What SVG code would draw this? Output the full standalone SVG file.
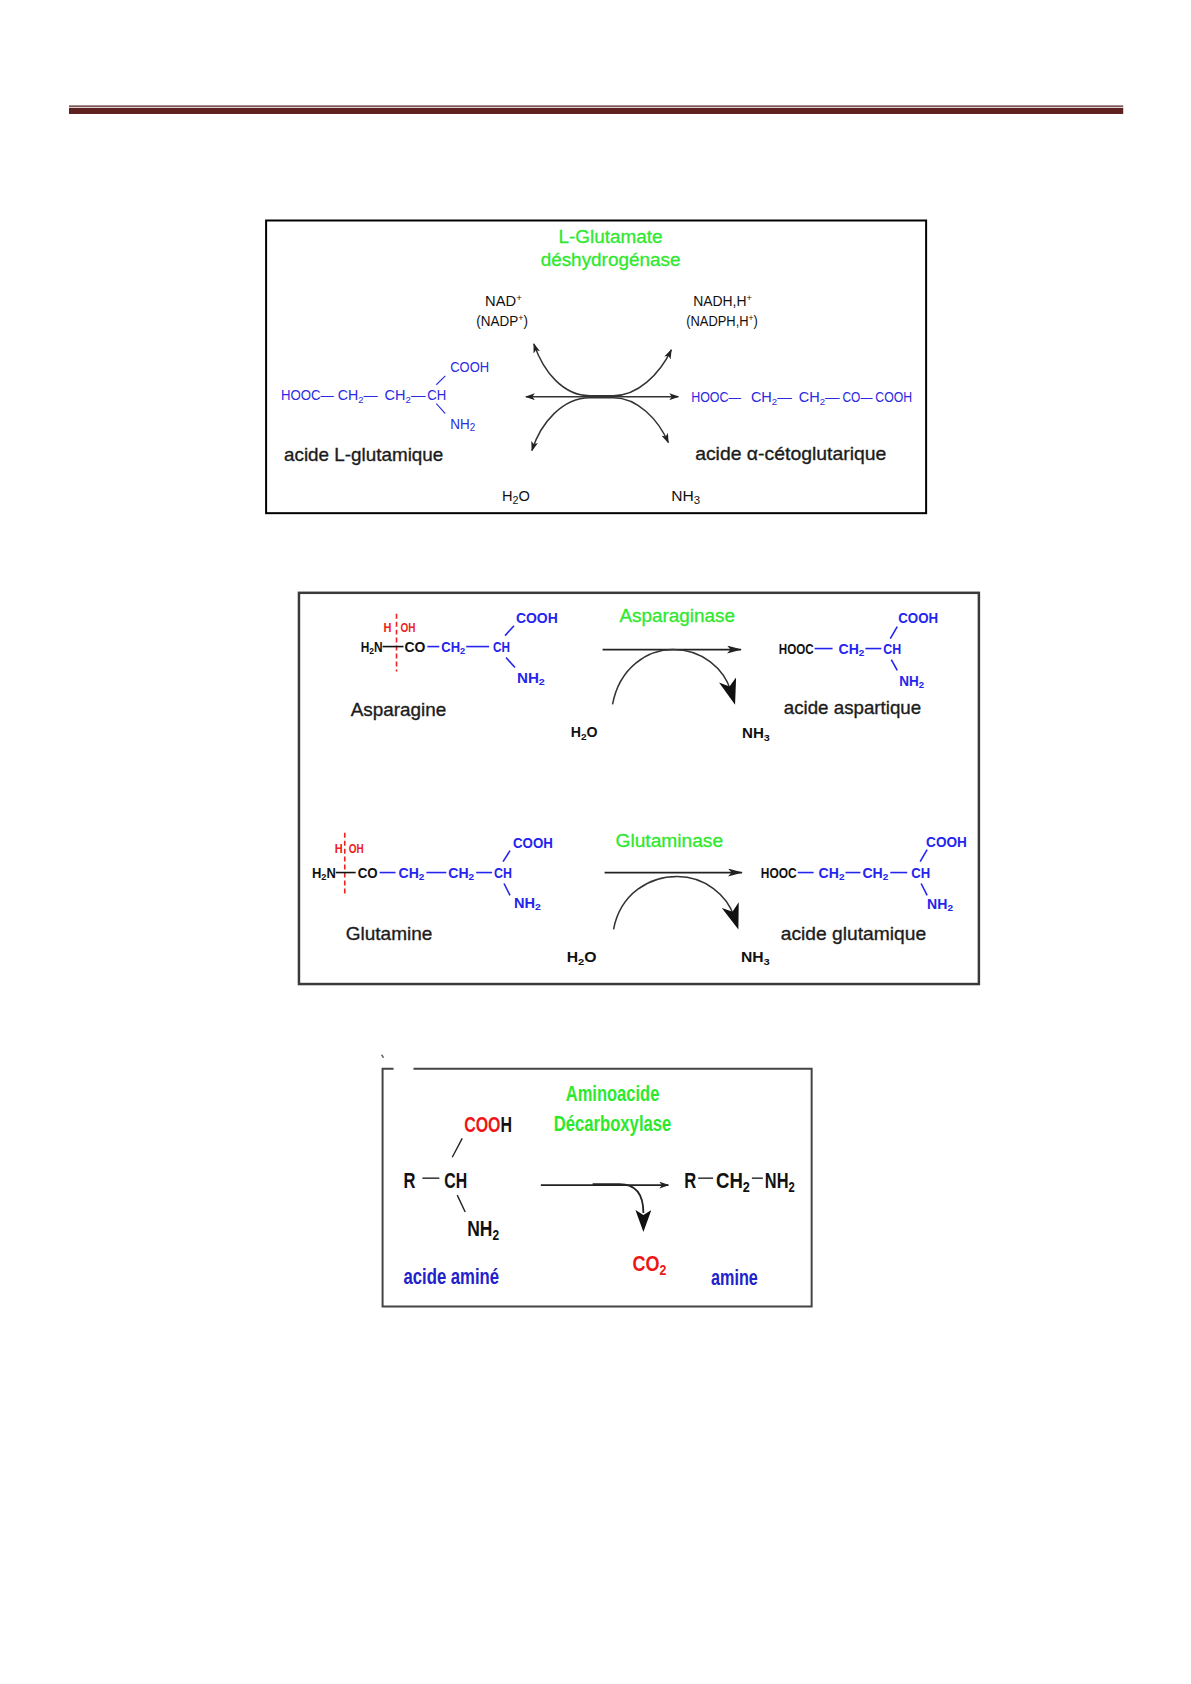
<svg xmlns="http://www.w3.org/2000/svg" width="1191" height="1684" viewBox="0 0 1191 1684">
<style>
text{font-family:"Liberation Sans",Arial,sans-serif}
.frame1{fill:none;stroke:#000;stroke-width:2}
.frame2{fill:none;stroke:#3a3a3a;stroke-width:2.5}
.m1{font-size:15px;fill:#2a2ae0}
.k1{font-size:15px;fill:#111}
.lbl{font-size:19px;fill:#1c1c1c;stroke:#1c1c1c;stroke-width:0.35}
.enz{font-size:19px;fill:#2ee82e;stroke:#2ee82e;stroke-width:0.3}
.m2{font-size:14px;font-weight:bold;fill:#2424ee}
.k2{font-size:14px;font-weight:bold;fill:#111}
.r2{font-size:12.5px;font-weight:bold;fill:#ee2020}
.b3{font-size:22px;font-weight:bold;fill:#111}
.e3{font-size:22px;font-weight:bold;fill:#2ee82e}
.u3{font-size:22px;font-weight:bold;fill:#2222cc}
.red3{font-size:22px;font-weight:bold;fill:#ee1515}
.bond1{stroke:#2a2ae0;stroke-width:1.1}
.bond2{stroke:#2424ee;stroke-width:1.6}
.bondk{stroke:#111;stroke-width:1.6}
.bond3{stroke:#222;stroke-width:1.4}
.cut{stroke:#ee2020;stroke-width:1.6;stroke-dasharray:5 3}
.arr{fill:none;stroke:#333;stroke-width:1.5}
.arrk{fill:none;stroke:#222;stroke-width:1.8}
</style>
<defs>
<marker id="a1" viewBox="0 0 10 7" refX="9" refY="3.5" markerWidth="10" markerHeight="7" markerUnits="userSpaceOnUse" orient="auto-start-reverse"><path d="M0,0 L10,3.5 L0,7 L2.5,3.5Z" fill="#222"/></marker>
<marker id="a2" viewBox="0 0 15 8" refX="14" refY="4" markerWidth="15" markerHeight="8" markerUnits="userSpaceOnUse" orient="auto"><path d="M0,0 L15,4 L0,8 L3.5,4Z" fill="#222"/></marker>
<marker id="a3" viewBox="0 0 26 18" refX="12" refY="9" markerWidth="26" markerHeight="18" markerUnits="userSpaceOnUse" orient="auto"><path d="M0,0 L26,9 L0,18 L7,9Z" fill="#111"/></marker>
<marker id="a4" viewBox="0 0 22 16" refX="3" refY="8" markerWidth="22" markerHeight="16" markerUnits="userSpaceOnUse" orient="auto"><path d="M0,0 L22,8 L0,16 L5,8Z" fill="#111"/></marker>
</defs>

<g transform="matrix(0.9955 0 0 0.9955 0.31 0.49)">

<g id="header">
<rect x="69" y="105.5" width="1059" height="1.2" fill="#4a1515"/>
<rect x="69" y="107.8" width="1059" height="6.2" fill="#5f2020"/>
</g>

<!-- ============ Box 1 ============ -->
<g id="box1-frame"><rect class="frame1" x="267" y="221" width="663" height="294"/></g>

<g id="gdh-enzyme">
<text class="enz" x="613" y="244" text-anchor="middle">L-Glutamate</text>
<text class="enz" x="613" y="267" text-anchor="middle">déshydrogénase</text>
</g>

<g id="nad">
<text class="k1" x="487" y="307" textLength="37" lengthAdjust="spacingAndGlyphs">NAD<tspan font-size="10" dy="-5">+</tspan></text>
<text class="k1" x="478" y="327" textLength="52" lengthAdjust="spacingAndGlyphs">(NADP<tspan font-size="10" dy="-5">+</tspan><tspan dy="5">)</tspan></text>
</g>
<g id="nadh">
<text class="k1" x="696" y="307" textLength="59" lengthAdjust="spacingAndGlyphs">NADH,H<tspan font-size="10" dy="-5">+</tspan></text>
<text class="k1" x="689" y="327" textLength="72" lengthAdjust="spacingAndGlyphs">(NADPH,H<tspan font-size="10" dy="-5">+</tspan><tspan dy="5">)</tspan></text>
</g>

<g id="glutamic-acid">
<text class="m1" x="282" y="401" textLength="53" lengthAdjust="spacingAndGlyphs">HOOC—</text>
<text class="m1" x="339" y="401" textLength="40" lengthAdjust="spacingAndGlyphs">CH<tspan font-size="10" dy="3">2</tspan><tspan dy="-3">—</tspan></text>
<text class="m1" x="386" y="401" textLength="41" lengthAdjust="spacingAndGlyphs">CH<tspan font-size="10" dy="3">2</tspan><tspan dy="-3">—</tspan></text>
<text class="m1" x="429" y="401" textLength="19" lengthAdjust="spacingAndGlyphs">CH</text>
<text class="m1" x="452" y="373" textLength="39" lengthAdjust="spacingAndGlyphs">COOH</text>
<text class="m1" x="452" y="430" textLength="25" lengthAdjust="spacingAndGlyphs">NH<tspan font-size="11" dy="2">2</tspan></text>
<line class="bond1" x1="438" y1="386" x2="447" y2="377"/>
<line class="bond1" x1="438" y1="405" x2="447" y2="415"/>
<text class="lbl" x="285" y="463" textLength="160" lengthAdjust="spacingAndGlyphs">acide L-glutamique</text>
</g>

<g id="ketoglutaric-acid">
<text class="m1" x="694" y="403" textLength="50" lengthAdjust="spacingAndGlyphs">HOOC—</text>
<text class="m1" x="754" y="403" textLength="41" lengthAdjust="spacingAndGlyphs">CH<tspan font-size="10" dy="3">2</tspan><tspan dy="-3">—</tspan></text>
<text class="m1" x="802" y="403" textLength="41" lengthAdjust="spacingAndGlyphs">CH<tspan font-size="10" dy="3">2</tspan><tspan dy="-3">—</tspan></text>
<text class="m1" x="846" y="403" textLength="30" lengthAdjust="spacingAndGlyphs">CO—</text>
<text class="m1" x="879" y="403" textLength="37" lengthAdjust="spacingAndGlyphs">COOH</text>
<text class="lbl" x="698" y="462" textLength="192" lengthAdjust="spacingAndGlyphs">acide α-cétoglutarique</text>
</g>

<g id="water1"><text class="k1" x="504" y="503" textLength="28" lengthAdjust="spacingAndGlyphs">H<tspan font-size="11" dy="3">2</tspan><tspan dy="-3">O</tspan></text></g>
<g id="ammonia1"><text class="k1" x="674" y="503" textLength="29" lengthAdjust="spacingAndGlyphs">NH<tspan font-size="11" dy="3">3</tspan></text></g>

<!-- ============ Box 2 ============ -->
<g id="box2-frame"><rect class="frame2" x="300" y="595" width="683" height="393"/></g>

<g id="asparagine">
<line class="cut" x1="398" y1="616" x2="398" y2="674"/>
<text class="r2" x="385" y="634" textLength="8" lengthAdjust="spacingAndGlyphs">H</text>
<text class="r2" x="402" y="634" textLength="15" lengthAdjust="spacingAndGlyphs">OH</text>
<text class="k2" x="362" y="654" textLength="22" lengthAdjust="spacingAndGlyphs">H<tspan font-size="10" dy="2">2</tspan><tspan dy="-2">N</tspan></text>
<line class="bondk" x1="384" y1="649" x2="405" y2="649"/>
<text class="k2" x="406" y="654" textLength="21" lengthAdjust="spacingAndGlyphs">CO</text>
<line class="bond2" x1="429" y1="649" x2="441" y2="649"/>
<text class="m2" x="443" y="654" textLength="24" lengthAdjust="spacingAndGlyphs">CH<tspan font-size="10" dy="2">2</tspan></text>
<line class="bond2" x1="468" y1="649" x2="491" y2="649"/>
<text class="m2" x="495" y="654" textLength="17" lengthAdjust="spacingAndGlyphs">CH</text>
<text class="m2" x="518" y="625" textLength="42" lengthAdjust="spacingAndGlyphs">COOH</text>
<text class="m2" x="519" y="686" textLength="28" lengthAdjust="spacingAndGlyphs">NH<tspan font-size="10" dy="2">2</tspan></text>
<line class="bond2" x1="507" y1="638" x2="516" y2="628"/>
<line class="bond2" x1="508" y1="660" x2="517" y2="670"/>
<text class="lbl" x="352" y="719" textLength="96" lengthAdjust="spacingAndGlyphs">Asparagine</text>
</g>

<g id="asparaginase"><text class="enz" x="622" y="624" textLength="116" lengthAdjust="spacingAndGlyphs">Asparaginase</text></g>

<g id="aspartic-acid">
<text class="k2" x="782" y="656" textLength="35" lengthAdjust="spacingAndGlyphs">HOOC</text>
<line class="bond2" x1="818" y1="651" x2="836" y2="651"/>
<text class="m2" x="842" y="656" textLength="26" lengthAdjust="spacingAndGlyphs">CH<tspan font-size="10" dy="2">2</tspan></text>
<line class="bond2" x1="869" y1="651" x2="885" y2="651"/>
<text class="m2" x="887" y="656" textLength="18" lengthAdjust="spacingAndGlyphs">CH</text>
<text class="m2" x="902" y="625" textLength="40" lengthAdjust="spacingAndGlyphs">COOH</text>
<text class="m2" x="903" y="689" textLength="25" lengthAdjust="spacingAndGlyphs">NH<tspan font-size="10" dy="2">2</tspan></text>
<line class="bond2" x1="894" y1="641" x2="901" y2="629"/>
<line class="bond2" x1="895" y1="662" x2="901" y2="673"/>
<text class="lbl" x="787" y="717" textLength="138" lengthAdjust="spacingAndGlyphs">acide aspartique</text>
</g>

<g id="water2"><text class="k2" x="573" y="740" textLength="27" lengthAdjust="spacingAndGlyphs">H<tspan font-size="10" dy="3">2</tspan><tspan dy="-3">O</tspan></text></g>
<g id="ammonia2"><text class="k2" x="745" y="741" textLength="28" lengthAdjust="spacingAndGlyphs">NH<tspan font-size="10" dy="3">3</tspan></text></g>

<g id="glutamine">
<line class="cut" x1="346" y1="836" x2="346" y2="898"/>
<text class="r2" x="336" y="856" textLength="8" lengthAdjust="spacingAndGlyphs">H</text>
<text class="r2" x="350" y="856" textLength="15" lengthAdjust="spacingAndGlyphs">OH</text>
<text class="k2" x="313" y="881" textLength="24" lengthAdjust="spacingAndGlyphs">H<tspan font-size="10" dy="2">2</tspan><tspan dy="-2">N</tspan></text>
<line class="bondk" x1="337" y1="876" x2="357" y2="876"/>
<text class="k2" x="359" y="881" textLength="20" lengthAdjust="spacingAndGlyphs">CO</text>
<line class="bond2" x1="381" y1="876" x2="397" y2="876"/>
<text class="m2" x="400" y="881" textLength="26" lengthAdjust="spacingAndGlyphs">CH<tspan font-size="10" dy="2">2</tspan></text>
<line class="bond2" x1="428" y1="876" x2="448" y2="876"/>
<text class="m2" x="450" y="881" textLength="26" lengthAdjust="spacingAndGlyphs">CH<tspan font-size="10" dy="2">2</tspan></text>
<line class="bond2" x1="478" y1="876" x2="494" y2="876"/>
<text class="m2" x="496" y="881" textLength="18" lengthAdjust="spacingAndGlyphs">CH</text>
<text class="m2" x="515" y="851" textLength="40" lengthAdjust="spacingAndGlyphs">COOH</text>
<text class="m2" x="516" y="912" textLength="27" lengthAdjust="spacingAndGlyphs">NH<tspan font-size="10" dy="2">2</tspan></text>
<line class="bond2" x1="505" y1="865" x2="512" y2="854"/>
<line class="bond2" x1="506" y1="887" x2="512" y2="899"/>
<text class="lbl" x="347" y="944" textLength="87" lengthAdjust="spacingAndGlyphs">Glutamine</text>
</g>

<g id="glutaminase"><text class="enz" x="618" y="850" textLength="108" lengthAdjust="spacingAndGlyphs">Glutaminase</text></g>

<g id="glutamic-acid2">
<text class="k2" x="764" y="881" textLength="36" lengthAdjust="spacingAndGlyphs">HOOC</text>
<line class="bond2" x1="801" y1="876" x2="817" y2="876"/>
<text class="m2" x="822" y="881" textLength="26" lengthAdjust="spacingAndGlyphs">CH<tspan font-size="10" dy="2">2</tspan></text>
<line class="bond2" x1="849" y1="876" x2="864" y2="876"/>
<text class="m2" x="866" y="881" textLength="26" lengthAdjust="spacingAndGlyphs">CH<tspan font-size="10" dy="2">2</tspan></text>
<line class="bond2" x1="894" y1="876" x2="911" y2="876"/>
<text class="m2" x="915" y="881" textLength="19" lengthAdjust="spacingAndGlyphs">CH</text>
<text class="m2" x="930" y="850" textLength="41" lengthAdjust="spacingAndGlyphs">COOH</text>
<text class="m2" x="931" y="913" textLength="26" lengthAdjust="spacingAndGlyphs">NH<tspan font-size="10" dy="2">2</tspan></text>
<line class="bond2" x1="924" y1="865" x2="931" y2="853"/>
<line class="bond2" x1="925" y1="887" x2="931" y2="899"/>
<text class="lbl" x="784" y="944" textLength="146" lengthAdjust="spacingAndGlyphs">acide glutamique</text>
</g>

<g id="water3"><text class="k2" x="569" y="966" textLength="30" lengthAdjust="spacingAndGlyphs">H<tspan font-size="10" dy="3">2</tspan><tspan dy="-3">O</tspan></text></g>
<g id="ammonia3"><text class="k2" x="744" y="966" textLength="29" lengthAdjust="spacingAndGlyphs">NH<tspan font-size="10" dy="3">3</tspan></text></g>

<!-- ============ Box 3 ============ -->
<g transform="translate(0,2)">
<g id="box3-frame">
<path d="M415 1071 H815 V1310 H384 V1071 H395" fill="none" stroke="#444" stroke-width="2"/>
<line x1="383" y1="1057" x2="385" y2="1060" stroke="#666" stroke-width="1.5"/>
</g>

<g id="decarboxylase">
<text class="e3" x="568" y="1103" textLength="94" lengthAdjust="spacingAndGlyphs">Aminoacide</text>
<text class="e3" x="556" y="1134" textLength="118" lengthAdjust="spacingAndGlyphs">Décarboxylase</text>
</g>

<g id="amino-acid">
<text class="b3" x="466" y="1135" textLength="48" lengthAdjust="spacingAndGlyphs"><tspan fill="#ee1515">COO</tspan>H</text>
<text class="b3" x="405" y="1191" textLength="12" lengthAdjust="spacingAndGlyphs">R</text>
<line class="bond3" x1="424" y1="1181" x2="441" y2="1181"/>
<text class="b3" x="446" y="1191" textLength="23" lengthAdjust="spacingAndGlyphs">CH</text>
<line class="bond3" x1="454" y1="1160" x2="464" y2="1141"/>
<line class="bond3" x1="459" y1="1198" x2="467" y2="1215"/>
<text class="b3" x="469" y="1239" textLength="32" lengthAdjust="spacingAndGlyphs">NH<tspan font-size="15" dy="4">2</tspan></text>
<text class="u3" x="405" y="1287" textLength="96" lengthAdjust="spacingAndGlyphs">acide aminé</text>
</g>

<g id="co2"><text class="red3" x="635" y="1274" textLength="34" lengthAdjust="spacingAndGlyphs">CO<tspan font-size="15" dy="4">2</tspan></text></g>

<g id="amine">
<text class="b3" x="687" y="1191" textLength="12" lengthAdjust="spacingAndGlyphs">R</text>
<line class="bond3" x1="701" y1="1181" x2="716" y2="1181"/>
<text class="b3" x="719" y="1191" textLength="34" lengthAdjust="spacingAndGlyphs">CH<tspan font-size="15" dy="4">2</tspan></text>
<line class="bond3" x1="755" y1="1181" x2="766" y2="1181"/>
<text class="b3" x="768" y="1191" textLength="30" lengthAdjust="spacingAndGlyphs">NH<tspan font-size="15" dy="4">2</tspan></text>
<text class="u3" x="714" y="1288" textLength="47" lengthAdjust="spacingAndGlyphs">amine</text>
</g>
</g>

<!-- ============ Connectors ============ -->
<g id="connectors">
<path class="arr" d="M528 398 L681 398" marker-start="url(#a1)" marker-end="url(#a1)"/>
<path class="arr" d="M536 345 C546 374 566 397 592 397 L616 397 C640 397 662 376 674 351" marker-start="url(#a1)" marker-end="url(#a1)"/>
<path class="arr" d="M534 452 C543 424 565 399 592 399 L616 399 C640 399 661 421 671 444" marker-start="url(#a1)" marker-end="url(#a1)"/>

<path class="arrk" d="M605 652 L744 652" marker-end="url(#a2)"/>
<path class="arr" d="M615 707 C622 670 650 652 676 652 C705 652 727 671 734 694" marker-end="url(#a3)"/>

<path class="arrk" d="M607 876 L745 876" marker-end="url(#a2)"/>
<path class="arr" d="M616 933 C623 897 652 880 680 880 C708 880 730 899 737 920" marker-end="url(#a3)"/>

<path class="arrk" d="M543 1190 L671 1190" marker-end="url(#a1)"/>
<path class="arrk" d="M595 1189 L622 1189 C638 1189 646 1198 646 1218" marker-end="url(#a4)"/>
</g>

</g>
</svg>
